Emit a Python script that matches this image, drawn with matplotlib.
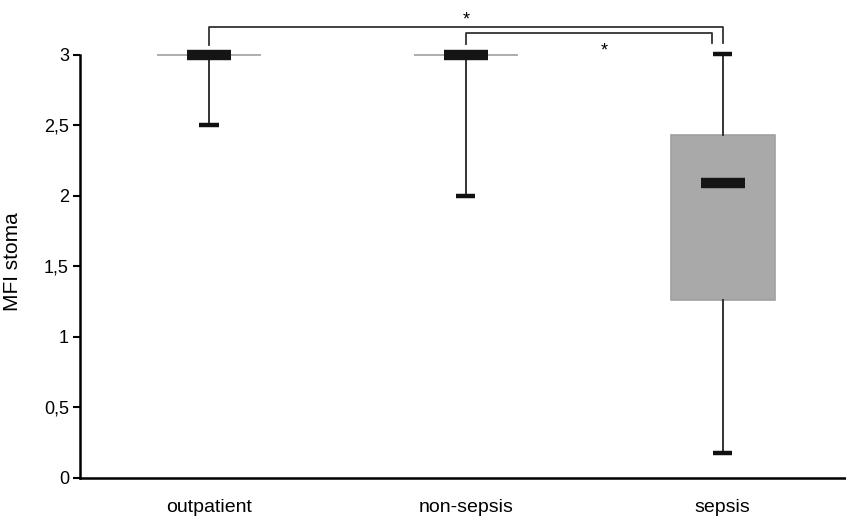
import matplotlib.pyplot as plt

plt.rcParams['font.family'] = ['Liberation Sans', 'DejaVu Sans']

# --- data ---
groups = ["outpatient", "non-sepsis", "sepsis"]
q1 = [3.0, 3.0, 1.26]
med = [3.0, 3.0, 2.095]
q3 = [3.0, 3.0, 2.43]
whislo = [2.5, 2.0, 0.18]
whishi = [3.0, 3.0, 3.01]
yticks = [0, 0.5, 1, 1.5, 2, 2.5, 3]
yticklabels = ["0", "0,5", "1", "1,5", "2", "2,5", "3"]

# significance brackets: (left group, right group, bracket height, star x, star y)
brackets = [(0, 2, 3.20, 1.0, 3.245), (1, 2, 3.155, 1.54, 3.03)]

fig = plt.figure(figsize=(8.46, 5.2), dpi=100)
ax = fig.add_axes([80 / 846, 42 / 520, 766 / 846, 478 / 520])

stats = []
for i, g in enumerate(groups):
    stats.append(dict(label=g, q1=q1[i], med=med[i], q3=q3[i],
                      whislo=whislo[i], whishi=whishi[i], fliers=[]))

pos = list(range(len(groups)))
ax.bxp(stats, positions=pos, widths=0.405, capwidths=0.075,
       patch_artist=True, showfliers=False,
       boxprops=dict(facecolor="#a9a9a9", edgecolor="#a0a0a0", linewidth=1.2),
       whiskerprops=dict(color="#333333", linewidth=1.4),
       capprops=dict(color="#111111", linewidth=3.2, solid_capstyle="butt"),
       medianprops=dict(linewidth=0))

# thick black median bars, narrower than the box
for i in pos:
    ax.plot([i - 0.085, i + 0.085], [med[i], med[i]], color="#151515",
            linewidth=7.5, solid_capstyle="butt", zorder=5)

# brackets
for a, b, h, sx, sy in brackets:
    left_bottom = 3.07 if a == 0 else 3.08
    right = b - (0.04 if a == 1 else 0)
    ax.plot([a, a, right, right], [left_bottom, h, h, 3.085],
            color="#333333", linewidth=1.3, clip_on=False)
    ax.text(sx, sy, "*", ha="center", va="center", fontsize=13)

ax.set_xlim(-0.502, 2.48)
ax.set_ylim(0, 3.39)
ax.set_yticks(yticks)
ax.set_yticklabels(yticklabels, fontsize=13)
ax.set_xticks(pos)
ax.set_xticklabels(groups, fontsize=14)
ax.tick_params(axis="x", length=0, pad=15)
ax.tick_params(axis="y", length=5, width=1.5, direction="out", pad=3)
ax.set_ylabel("MFI stoma", fontsize=15)
ax.yaxis.set_label_coords(-0.076, 0.452)

for s in ["top", "right"]:
    ax.spines[s].set_visible(False)
for s in ["left", "bottom"]:
    ax.spines[s].set_linewidth(1.8)
ax.spines["left"].set_bounds(0, 3)

fig.savefig("out.png", dpi=100)
